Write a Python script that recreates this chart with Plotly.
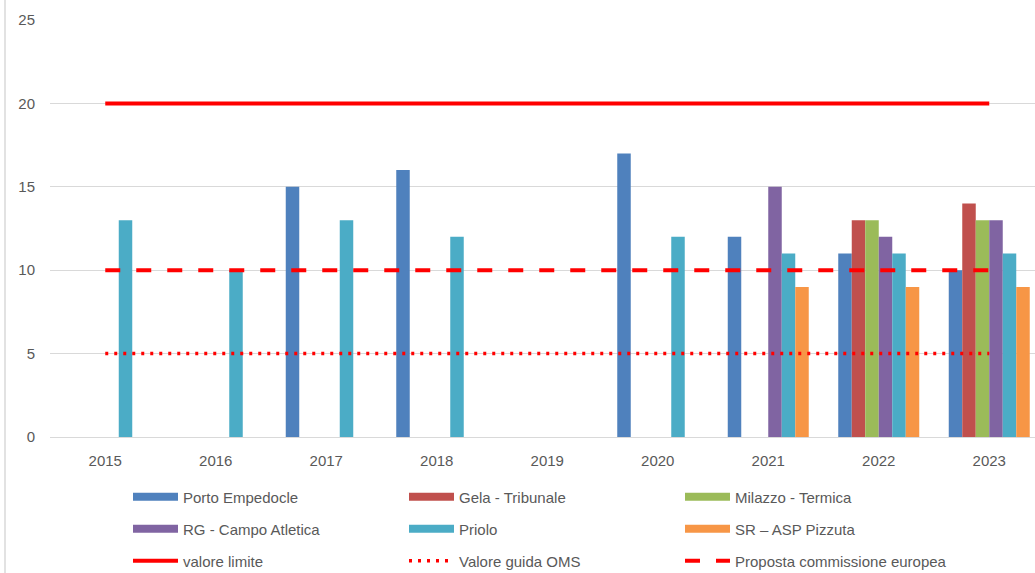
import plotly.graph_objects as go

years = ["2015", "2016", "2017", "2018", "2019", "2020", "2021", "2022", "2023"]

porto_empedocle = [None, None, 15, 16, None, 17, 12, 11, 10]
gela_tribunale = [None, None, None, None, None, None, None, 13, 14]
milazzo_termica = [None, None, None, None, None, None, None, 13, 13]
rg_campo_atletica = [None, None, None, None, None, None, 15, 12, 13]
priolo = [13, 10, 13, 12, None, 12, 11, 11, 11]
sr_asp_pizzuta = [None, None, None, None, None, None, 9, 9, 9]

valore_limite = [20] * 9
valore_guida_oms = [5] * 9
proposta_ce = [10] * 9

bar_series = [
    ("Porto Empedocle", porto_empedocle, "#4F81BD", "legend"),
    ("Gela - Tribunale", gela_tribunale, "#C0504D", "legend"),
    ("Milazzo - Termica", milazzo_termica, "#9BBB59", "legend"),
    ("RG - Campo Atletica", rg_campo_atletica, "#8064A2", "legend2"),
    ("Priolo", priolo, "#4BACC6", "legend2"),
    ("SR \u2013 ASP Pizzuta", sr_asp_pizzuta, "#F79646", "legend2"),
]

line_series = [
    ("valore limite", valore_limite, "solid", 4),
    ("Valore guida OMS", valore_guida_oms, "3px,6px", 3.5),
    ("Proposta commissione europea", proposta_ce, "15px,16px", 4),
]

FONT = "Liberation Sans"
GREY = "#595959"
FS = 15

fig = go.Figure()
for name, vals, color, lg in bar_series:
    fig.add_trace(go.Bar(x=years, y=vals, name=name, marker=dict(color=color, line=dict(width=0)),
                         legendgroup=name, showlegend=False))
# legend keys for the bar series: wide flat swatches like the original
for name, vals, color, lg in bar_series:
    fig.add_trace(go.Scatter(x=[None], y=[None], name=name, mode="lines",
                             line=dict(color=color, width=8), legendgroup=name,
                             legend=lg, hoverinfo="skip"))
for name, vals, dash, w in line_series:
    fig.add_trace(go.Scatter(x=years, y=vals, name=name, mode="lines",
                             line=dict(color="#FF0000", width=w, dash=dash), legend="legend3"))

W, H = 1035, 573
ml, mt, mb = 50, 20, 136
ph = H - mt - mb

def py(pix):
    return (H - mb - pix) / ph

def px(pix):
    return (pix - ml) / (W - ml)

leg_common = dict(orientation="h", xanchor="left", yanchor="middle", entrywidth=216,
                  font=dict(family=FONT, size=FS, color=GREY), bgcolor="rgba(0,0,0,0)",
                  itemwidth=45, traceorder="normal")

fig.update_layout(
    width=W, height=H,
    margin=dict(l=ml, r=0, t=mt, b=mb, autoexpand=False),
    paper_bgcolor="white", plot_bgcolor="white",
    barmode="group", bargap=0.267, bargroupgap=0,
    font=dict(family=FONT, size=FS, color=GREY),
    xaxis=dict(type="category", range=[-0.5, 8.414], showgrid=False, showline=False,
               zeroline=False, ticks="", ticklabelstandoff=13, automargin=False,
               tickfont=dict(family=FONT, size=FS, color=GREY)),
    yaxis=dict(range=[0, 25], dtick=5, showgrid=True, gridcolor="#D9D9D9", gridwidth=1,
               zeroline=True, zerolinecolor="#D9D9D9", zerolinewidth=1, showline=False,
               ticks="", ticklabelstandoff=14, automargin=False,
               tickfont=dict(family=FONT, size=FS, color=GREY)),
    legend=dict(x=px(128), y=py(497), **leg_common),
    legend2=dict(x=px(128), y=py(529), **leg_common),
    legend3=dict(x=px(128), y=py(561), **leg_common),
    shapes=[dict(type="line", xref="paper", yref="paper", x0=px(5), x1=px(5),
                 y0=py(H), y1=py(0), line=dict(color="#D9D9D9", width=1.5))],
)

fig.write_html("out.html", config={"displayModeBar": False},
               post_script="document.body.style.margin='0';document.body.style.overflow='hidden';")
